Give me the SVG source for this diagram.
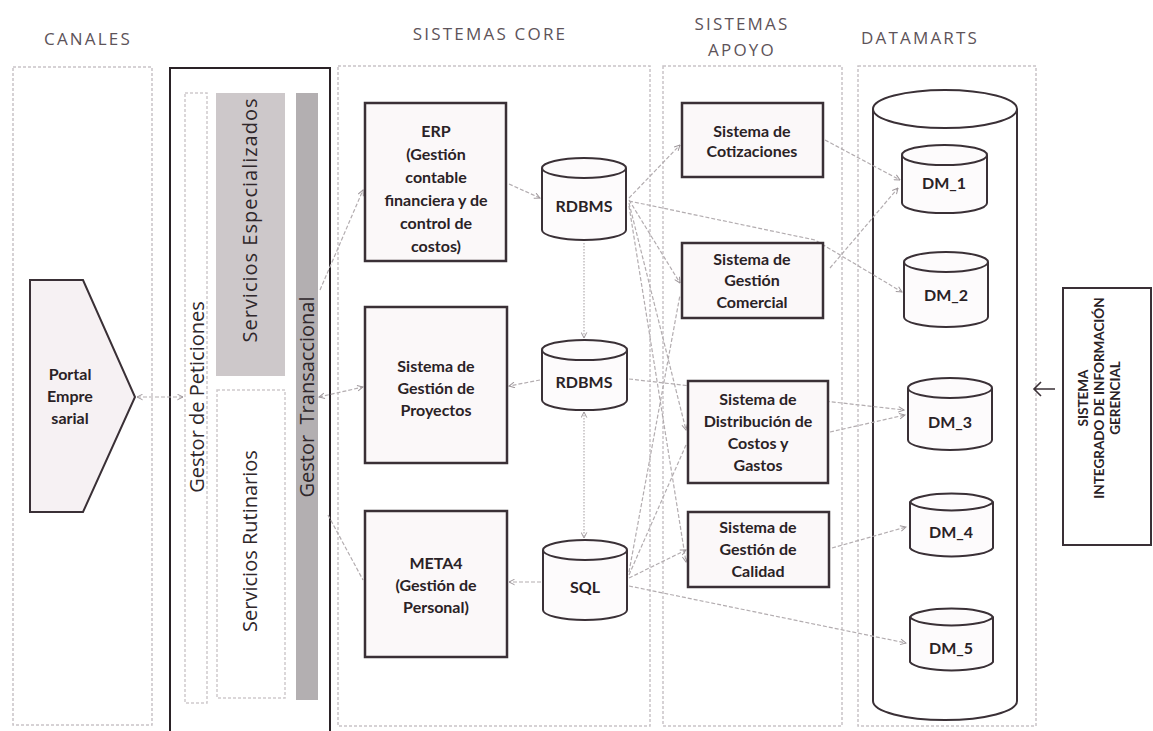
<svg xmlns="http://www.w3.org/2000/svg" width="1153" height="731" viewBox="0 0 1153 731">
  <defs>
    <marker id="arr" viewBox="0 0 10 10" refX="9" refY="5" markerWidth="7" markerHeight="7" orient="auto-start-reverse" markerUnits="userSpaceOnUse">
      <path d="M1,1 L9,5 L1,9" fill="none" stroke="#9d969a" stroke-width="1.4"/>
    </marker>
    <style>
      .head { font-family: "Open Sans", "Liberation Sans", sans-serif; font-size: 17px; fill: #5d5359; letter-spacing: 2.2px; text-anchor: middle; }
      .col { fill: none; stroke: #c9c4c7; stroke-width: 1.5; stroke-dasharray: 3 2; }
      .box { fill: #fbf8f9; stroke: #3a3036; stroke-width: 2.5; }
      .lbl { font-family: "Lato", "Liberation Sans", sans-serif; font-weight: bold; font-size: 16px; fill: #2a2226; text-anchor: middle; }
      .vlbl { font-family: "Open Sans", "Liberation Sans", sans-serif; font-size: 20px; fill: #2f272b; text-anchor: middle; }
      .cyl { fill: #fdfbfc; stroke: #3a3036; stroke-width: 2; }
      .con { fill: none; stroke: #b3adb0; stroke-width: 1.2; stroke-dasharray: 4 2; }
      .dot { fill: none; stroke: #b3adb0; stroke-width: 1.2; stroke-dasharray: 1.5 1.5; }
    </style>
  </defs>

  <rect width="1153" height="731" fill="#ffffff"/>

  <!-- column headings -->
  <g id="headings">
    <text class="head" x="88" y="45">CANALES</text>
    <text class="head" x="490" y="40">SISTEMAS CORE</text>
    <text class="head" x="742" y="30">SISTEMAS</text>
    <text class="head" x="742" y="56">APOYO</text>
    <text class="head" x="920" y="44">DATAMARTS</text>
  </g>

  <!-- column frames -->
  <g id="columns">
    <rect class="col" x="13" y="67" width="139" height="658"/>
    <rect class="col" x="338" y="66" width="312" height="660"/>
    <rect class="col" x="663" y="66" width="179" height="660"/>
    <rect class="col" x="858" y="66" width="178" height="660"/>
  </g>

  <!-- request / transaction manager block -->
  <g id="gestor">
    <rect x="170" y="68" width="160" height="680" fill="#ffffff" stroke="#2a2226" stroke-width="2"/>
    <rect x="185" y="93" width="22" height="610" fill="none" stroke="#cfcacd" stroke-width="1.5" stroke-dasharray="3 2"/>
    <rect x="216" y="93" width="69" height="283" fill="#cdc8ca"/>
    <rect x="217" y="390" width="68" height="308" fill="none" stroke="#cfcacd" stroke-width="1.5" stroke-dasharray="3 2"/>
    <rect x="296" y="93" width="22" height="607" fill="#b3afb1"/>
    <text class="vlbl" transform="translate(204,397) rotate(-90)">Gestor de Peticiones</text>
    <text class="vlbl" transform="translate(257,220) rotate(-90)" letter-spacing="1">Servicios Especializados</text>
    <text class="vlbl" transform="translate(257,541) rotate(-90)">Servicios Rutinarios</text>
    <text class="vlbl" transform="translate(314,397) rotate(-90)" xml:space="preserve">Gestor  Transaccional</text>
  </g>

  <!-- datamart store (behind its connectors) -->
  <g id="datamarts">
    <path d="M873,109 A72,19 0 0 1 1017,109 V701 A72,19 0 0 1 873,701 Z" fill="#ffffff" stroke="#3a3036" stroke-width="2"/>
    <path d="M873,109 A72,19 0 0 0 1017,109" fill="none" stroke="#3a3036" stroke-width="2"/>
  </g>

  <!-- connectors -->
  <g id="connectors">
    <line class="con" x1="137" y1="397" x2="183" y2="397" marker-start="url(#arr)" marker-end="url(#arr)"/>
    <line class="con" x1="320" y1="290" x2="363" y2="190" marker-end="url(#arr)"/>
    <line class="con" x1="319" y1="397" x2="363" y2="387" marker-start="url(#arr)" marker-end="url(#arr)"/>
    <line class="con" x1="328" y1="515" x2="363" y2="580"/>
    <line class="con" x1="509" y1="184" x2="540" y2="198" marker-end="url(#arr)"/>
    <line class="dot" x1="584" y1="243" x2="584" y2="338" marker-end="url(#arr)"/>
    <line class="con" x1="540" y1="380" x2="509" y2="386" marker-end="url(#arr)"/>
    <line class="dot" x1="584" y1="412" x2="584" y2="538" marker-start="url(#arr)" marker-end="url(#arr)"/>
    <line class="con" x1="541" y1="582" x2="509" y2="582" marker-end="url(#arr)"/>

    <line class="con" x1="629" y1="198" x2="680" y2="145" marker-end="url(#arr)"/>
    <line class="con" x1="629" y1="200" x2="680" y2="283" marker-end="url(#arr)"/>
    <line class="con" x1="629" y1="203" x2="686" y2="430" marker-end="url(#arr)"/>
    <line class="con" x1="629" y1="206" x2="686" y2="562" marker-end="url(#arr)"/>
    <polyline class="con" points="629,201 815,240 902,292" marker-end="url(#arr)"/>
    <line class="con" x1="825" y1="140" x2="900" y2="180" marker-end="url(#arr)"/>
    <line class="con" x1="830" y1="268" x2="898" y2="188" marker-end="url(#arr)"/>
    <line class="con" x1="629" y1="379" x2="904" y2="410" marker-end="url(#arr)"/>
    <line class="con" x1="830" y1="432" x2="905" y2="415" marker-end="url(#arr)"/>
    <line class="con" x1="832" y1="548" x2="906" y2="527" marker-end="url(#arr)"/>
    <line class="con" x1="629" y1="578" x2="686" y2="550" marker-end="url(#arr)"/>
    <line class="con" x1="629" y1="575" x2="686" y2="445"/>
    <line class="con" x1="629" y1="572" x2="680" y2="295"/>
    <line class="con" x1="629" y1="586" x2="906" y2="643" marker-end="url(#arr)"/>
  </g>

  <!-- channel -->
  <g id="portal">
    <path d="M30,280 L83,280 L135,397 L83,512 L30,512 Z" fill="#f6f1f3" stroke="#3a3036" stroke-width="2"/>
    <text class="lbl" x="70" y="380">Portal</text>
    <text class="lbl" x="70" y="402">Empre</text>
    <text class="lbl" x="70" y="424">sarial</text>
  </g>

  <!-- core systems -->
  <g id="erp">
    <rect class="box" x="365" y="103" width="141" height="158"/>
    <text class="lbl" x="436" y="137">ERP</text>
    <text class="lbl" x="436" y="160">(Gestión</text>
    <text class="lbl" x="436" y="183">contable</text>
    <text class="lbl" x="436" y="206">financiera y de</text>
    <text class="lbl" x="436" y="229">control de</text>
    <text class="lbl" x="436" y="252">costos)</text>
  </g>
  <g id="proyectos">
    <rect class="box" x="365" y="307" width="142" height="156"/>
    <text class="lbl" x="436" y="372">Sistema de</text>
    <text class="lbl" x="436" y="394">Gestión de</text>
    <text class="lbl" x="436" y="416">Proyectos</text>
  </g>
  <g id="meta4">
    <rect class="box" x="365" y="511" width="142" height="146"/>
    <text class="lbl" x="436" y="569">META4</text>
    <text class="lbl" x="436" y="591">(Gestión de</text>
    <text class="lbl" x="436" y="613">Personal)</text>
  </g>

  <!-- databases -->
  <g id="rdbms1">
    <path class="cyl" d="M542,168 A42,10 0 0 1 626,168 V230 A42,10 0 0 1 542,230 Z"/>
    <path d="M542,168 A42,10 0 0 0 626,168" fill="none" stroke="#3a3036" stroke-width="2"/>
    <text class="lbl" x="584" y="212">RDBMS</text>
  </g>
  <g id="rdbms2">
    <path class="cyl" d="M542,350 A42,10 0 0 1 627,350 V400 A42,10 0 0 1 542,400 Z"/>
    <path d="M542,350 A42,10 0 0 0 627,350" fill="none" stroke="#3a3036" stroke-width="2"/>
    <text class="lbl" x="584" y="388">RDBMS</text>
  </g>
  <g id="sql">
    <path class="cyl" d="M543,550 A42,10 0 0 1 627,550 V610 A42,10 0 0 1 543,610 Z"/>
    <path d="M543,550 A42,10 0 0 0 627,550" fill="none" stroke="#3a3036" stroke-width="2"/>
    <text class="lbl" x="585" y="593">SQL</text>
  </g>

  <!-- support systems -->
  <g id="cotizaciones">
    <rect class="box" x="682" y="103" width="141" height="74"/>
    <text class="lbl" x="752" y="137">Sistema de</text>
    <text class="lbl" x="752" y="157">Cotizaciones</text>
  </g>
  <g id="comercial">
    <rect class="box" x="682" y="243" width="141" height="75"/>
    <text class="lbl" x="752" y="265">Sistema de</text>
    <text class="lbl" x="752" y="286">Gestión</text>
    <text class="lbl" x="752" y="308">Comercial</text>
  </g>
  <g id="distribucion">
    <rect class="box" x="688" y="381" width="140" height="102"/>
    <text class="lbl" x="758" y="405">Sistema de</text>
    <text class="lbl" x="758" y="427">Distribución de</text>
    <text class="lbl" x="758" y="449">Costos y</text>
    <text class="lbl" x="758" y="471">Gastos</text>
  </g>
  <g id="calidad">
    <rect class="box" x="688" y="512" width="141" height="75"/>
    <text class="lbl" x="758" y="533">Sistema de</text>
    <text class="lbl" x="758" y="555">Gestión de</text>
    <text class="lbl" x="758" y="577">Calidad</text>
  </g>

  <!-- datamarts -->
  <g id="dm1">
    <path class="cyl" d="M902,155 A42,10 0 0 1 987,155 V203 A42,10 0 0 1 902,203 Z"/>
    <path d="M902,155 A42,10 0 0 0 987,155" fill="none" stroke="#3a3036" stroke-width="2"/>
    <text class="lbl" x="944" y="189">DM_1</text>
  </g>
  <g id="dm2">
    <path class="cyl" d="M904,262 A42,10 0 0 1 988,262 V317 A42,10 0 0 1 904,317 Z"/>
    <path d="M904,262 A42,10 0 0 0 988,262" fill="none" stroke="#3a3036" stroke-width="2"/>
    <text class="lbl" x="946" y="301">DM_2</text>
  </g>
  <g id="dm3">
    <path class="cyl" d="M908,388 A42,10 0 0 1 992,388 V440 A42,10 0 0 1 908,440 Z"/>
    <path d="M908,388 A42,10 0 0 0 992,388" fill="none" stroke="#3a3036" stroke-width="2"/>
    <text class="lbl" x="950" y="428">DM_3</text>
  </g>
  <g id="dm4">
    <path class="cyl" d="M910,502 A42,10 0 0 1 993,502 V548 A42,10 0 0 1 910,548 Z"/>
    <path d="M910,502 A42,10 0 0 0 993,502" fill="none" stroke="#3a3036" stroke-width="2"/>
    <text class="lbl" x="951" y="538">DM_4</text>
  </g>
  <g id="dm5">
    <path class="cyl" d="M910,617 A42,10 0 0 1 993,617 V662 A42,10 0 0 1 910,662 Z"/>
    <path d="M910,617 A42,10 0 0 0 993,617" fill="none" stroke="#3a3036" stroke-width="2"/>
    <text class="lbl" x="951" y="654">DM_5</text>
  </g>

  <!-- management information system -->
  <g id="sig">
    <path d="M1055,389 H1034 M1041,382 L1034,389 L1041,396" fill="none" stroke="#3a3036" stroke-width="1.6"/>
    <rect x="1063" y="288" width="88" height="257" fill="#ffffff" stroke="#3a3036" stroke-width="2"/>
    <g font-family="Lato, 'Liberation Sans', sans-serif" font-weight="bold" font-size="13.5" fill="#2a2226" text-anchor="middle">
      <text transform="translate(1088,398) rotate(-90)">SISTEMA</text>
      <text transform="translate(1104,398) rotate(-90)">INTEGRADO DE INFORMACIÓN</text>
      <text transform="translate(1120,398) rotate(-90)">GERENCIAL</text>
    </g>
  </g>
</svg>
